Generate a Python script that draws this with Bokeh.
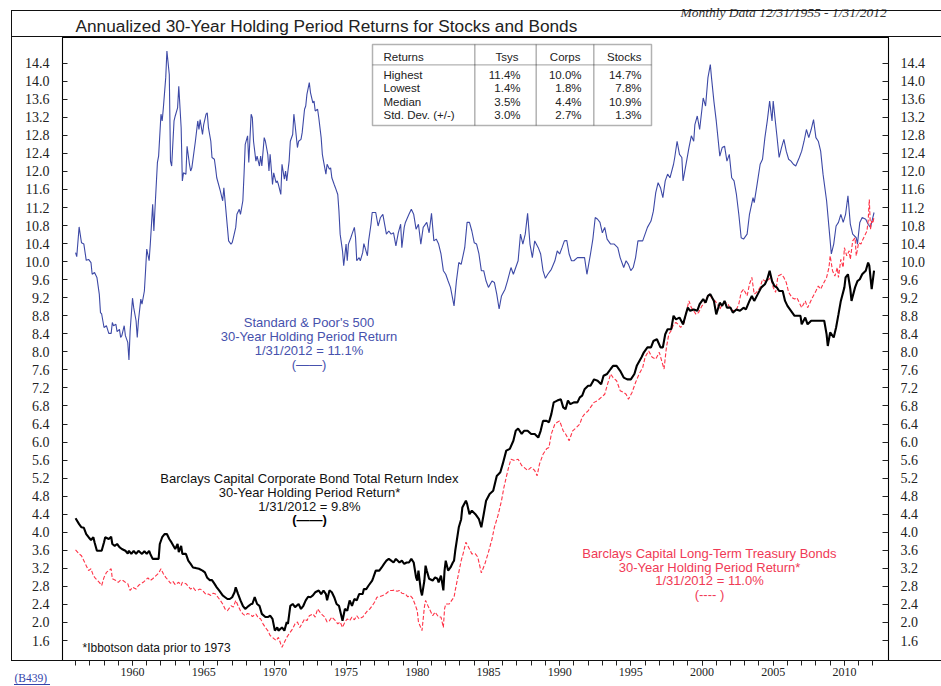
from bokeh.plotting import figure
from bokeh.models import (Range1d, LinearAxis, FixedTicker, Label, BoxAnnotation, Title,
                          PrintfTickFormatter, InlineStyleSheet)
from bokeh.embed import file_html
from bokeh.resources import INLINE

# ---------------- data (month index since 12/1955, annualized 30-yr return %) -------------
stock_m = [0, 1, 3, 5, 7, 9, 11, 13, 14, 16, 18, 20, 21, 22, 24, 26, 28, 30, 31, 32, 34, 35, 37, 38, 39,
           41, 42, 44, 45, 46, 48, 49, 51, 52, 53, 55, 56, 58, 59, 60, 62, 63, 65, 66, 67, 69, 70, 72, 73,
           74, 76, 77, 79, 80, 81, 83, 84, 86, 87, 89, 90, 91, 93, 94, 96, 97, 98, 101, 103, 104, 105, 107,
           108, 110, 111, 112, 114, 115, 117, 118, 119, 122, 124, 125, 126, 128, 129, 131, 132, 133, 135,
           136, 138, 139, 141, 142, 143, 145, 146, 148, 149, 150, 152, 153, 155, 156, 157, 159, 160, 162,
           163, 164, 166, 167, 169, 170, 171, 173, 174, 176, 177, 178, 180, 181, 183, 184, 185, 187, 188,
           190, 191, 193, 194, 195, 197, 198, 200, 201, 202, 204, 205, 207, 208, 209, 211, 212, 214, 215,
           216, 218, 219, 221, 222, 223, 225, 226, 228, 229, 230, 232, 233, 235, 236, 237, 239, 240, 242,
           243, 244, 246, 247, 249, 250, 253, 255, 257, 259, 262, 264, 266, 268, 270, 272, 274, 275, 277,
           278, 281, 283, 285, 287, 289, 291, 293, 296, 298, 300, 302, 304, 306, 308, 310, 312, 314, 316,
           319, 321, 323, 325, 328, 330, 332, 334, 336, 338, 340, 342, 344, 346, 348, 351, 353, 355, 357,
           359, 362, 364, 367, 369, 371, 373, 375, 377, 379, 381, 383, 385, 387, 390, 392, 394, 396, 398,
           401, 404, 406, 408, 410, 412, 414, 416, 418, 420, 423, 426, 429, 431, 434, 436, 438, 440, 442,
           444, 446, 448, 451, 454, 457, 459, 462, 464, 466, 468, 470, 472, 474, 476, 478, 480, 482, 485,
           487, 489, 491, 493, 495, 497, 499, 501, 504, 505, 507, 509, 511, 512, 515, 517, 519, 521, 522,
           524, 526, 529, 531, 533, 535, 536, 538, 540, 543, 545, 547, 549, 551, 553, 555, 557, 559, 561,
           563, 566, 568, 571, 572, 574, 577, 579, 581, 583, 585, 587, 588, 591, 593, 595, 597, 599, 601,
           603, 605, 607, 610, 612, 614, 616, 618, 620, 622, 624, 626, 628, 630, 633, 635, 637, 639, 641,
           643, 645, 647, 649, 651, 653, 655, 658, 659, 661, 663, 666, 668, 670, 672, 673]
stock_v = [10.20, 10.11, 10.77, 10.42, 10.39, 10.03, 10.05, 9.98, 9.72, 9.76, 9.65, 9.28, 8.87, 8.84, 8.54,
           8.58, 8.41, 8.41, 8.65, 8.58, 8.61, 8.45, 8.50, 8.32, 8.36, 8.58, 8.36, 8.21, 7.82, 8.47, 9.19,
           8.98, 8.69, 8.32, 8.69, 9.17, 9.06, 9.35, 9.80, 10.28, 10.02, 10.39, 11.27, 10.68, 11.20, 12.20,
           12.34, 13.27, 13.12, 13.41, 14.08, 14.67, 14.15, 12.23, 12.12, 13.12, 13.23, 13.41, 13.89, 12.97,
           11.79, 11.97, 11.94, 12.56, 12.16, 12.01, 12.08, 12.67, 13.12, 12.93, 13.15, 12.82, 13.04, 13.27,
           13.30, 12.97, 12.67, 12.31, 12.27, 12.08, 11.86, 11.57, 11.35, 11.64, 11.35, 10.76, 10.46, 10.39,
           10.42, 10.53, 10.76, 11.05, 11.16, 11.05, 11.35, 11.94, 12.60, 12.79, 12.20, 13.27, 13.19, 12.67,
           12.23, 12.34, 12.12, 12.34, 12.12, 12.75, 12.67, 12.38, 12.01, 12.38, 11.71, 11.97, 11.75, 11.79,
           11.71, 11.49, 12.16, 11.83, 12.01, 11.79, 12.23, 12.67, 12.82, 13.27, 13.04, 12.53, 12.67, 12.71,
           12.86, 13.38, 13.45, 13.71, 13.97, 13.75, 13.52, 13.56, 13.34, 13.38, 13.19, 12.75, 12.38, 12.23,
           11.94, 12.16, 12.05, 12.08, 11.86, 11.71, 11.64, 11.49, 11.12, 10.61, 10.24, 9.91, 10.39, 10.02,
           10.39, 10.53, 10.61, 10.76, 10.53, 10.02, 10.09, 10.02, 10.20, 10.40, 10.31, 10.13, 10.46, 10.83,
           11.09, 11.09, 10.79, 10.98, 11.05, 10.61, 10.68, 10.61, 10.64, 10.35, 10.64, 10.83, 10.31, 10.76,
           10.87, 11.05, 11.16, 11.05, 10.72, 10.83, 10.39, 10.76, 10.87, 10.64, 11.07, 10.46, 10.50, 10.39,
           10.17, 9.80, 9.72, 9.57, 9.43, 9.02, 9.57, 9.98, 9.94, 10.31, 10.87, 10.87, 10.68, 10.42, 10.39,
           10.17, 9.80, 9.80, 9.57, 9.43, 9.57, 9.54, 9.28, 8.95, 9.24, 9.39, 9.57, 9.87, 9.72, 9.87, 10.02,
           10.61, 10.39, 10.61, 11.07, 10.39, 10.09, 10.46, 10.31, 10.17, 9.80, 9.63, 9.72, 9.83, 10.02,
           10.24, 10.17, 10.31, 10.46, 10.47, 10.17, 10.02, 10.02, 10.09, 10.09, 10.09, 9.72, 10.17, 10.50,
           10.98, 10.94, 10.87, 10.64, 10.76, 10.50, 10.39, 10.39, 10.31, 10.09, 9.87, 10.02, 9.94, 9.80,
           9.87, 10.09, 10.46, 10.46, 10.46, 10.61, 10.76, 10.90, 11.12, 11.53, 11.75, 11.64, 11.42, 11.79,
           11.94, 11.86, 12.16, 12.31, 12.67, 12.38, 12.31, 11.79, 12.23, 12.53, 12.79, 12.67, 13.04, 13.23,
           12.93, 13.63, 13.45, 14.08, 14.37, 14.08, 13.56, 13.12, 12.34, 12.53, 12.56, 12.23, 12.38, 11.86,
           11.79, 11.49, 11.05, 10.53, 10.50, 10.61, 11.05, 11.42, 11.31, 11.64, 12.16, 12.27, 12.75, 13.12,
           13.56, 13.12, 13.56, 12.82, 12.31, 12.53, 12.71, 12.45, 12.27, 12.23, 12.16, 12.12, 12.31, 12.45,
           12.67, 12.93, 12.75, 12.93, 13.15, 12.75, 12.67, 12.45, 11.94, 11.35, 10.76, 10.17, 10.39, 10.79,
           10.87, 11.05, 10.87, 11.05, 11.46, 10.83, 10.61, 10.53, 10.39, 10.87, 10.98, 10.94, 10.83, 10.76,
           10.98, 11.09]

corp_m = [0, 3, 5, 7, 9, 11, 13, 15, 16, 18, 20, 22, 24, 25, 28, 30, 31, 33, 35, 37, 39, 42, 44, 45, 47,
          49, 51, 53, 56, 58, 60, 62, 63, 65, 67, 70, 71, 73, 75, 77, 79, 81, 84, 86, 87, 89, 90, 93, 95,
          97, 99, 101, 104, 107, 109, 111, 113, 115, 117, 119, 121, 124, 126, 128, 130, 132, 134, 135, 137,
          139, 141, 143, 146, 148, 149, 151, 153, 155, 157, 160, 162, 164, 166, 168, 170, 171, 174, 176,
          178, 179, 181, 183, 185, 188, 190, 192, 194, 196, 198, 200, 202, 205, 207, 209, 211, 212, 214,
          216, 218, 220, 222, 224, 225, 227, 229, 231, 233, 235, 237, 239, 242, 243, 245, 247, 250, 251,
          253, 256, 258, 260, 262, 264, 266, 268, 270, 273, 275, 277, 279, 281, 283, 285, 287, 288, 289,
          291, 292, 294, 295, 296, 298, 301, 303, 305, 306, 308, 310, 311, 312, 314, 316, 318, 319, 320,
          323, 325, 326, 329, 330, 332, 334, 337, 340, 342, 344, 346, 349, 352, 355, 358, 360, 363, 366,
          369, 371, 373, 376, 378, 381, 384, 387, 390, 392, 394, 397, 399, 401, 403, 406, 409, 411, 413,
          415, 417, 420, 423, 425, 427, 429, 432, 434, 437, 440, 443, 445, 448, 451, 453, 456, 459, 462,
          465, 468, 471, 473, 477, 479, 482, 485, 487, 490, 493, 495, 497, 499, 502, 504, 506, 509, 512,
          514, 516, 518, 521, 524, 526, 529, 531, 533, 535, 538, 540, 543, 545, 547, 549, 552, 554, 557,
          560, 563, 565, 568, 570, 572, 575, 578, 581, 583, 585, 587, 589, 591, 593, 596, 598, 600, 603,
          606, 609, 611, 612, 615, 617, 620, 623, 625, 628, 631, 633, 634, 636, 639, 641, 643, 645, 648,
          649, 651, 653, 654, 657, 659, 661, 663, 666, 668, 669, 671, 673]
corp_v = [4.31, 4.18, 4.11, 4.10, 3.96, 3.89, 3.83, 3.89, 3.78, 3.59, 3.59, 3.59, 3.78, 3.89, 3.85, 3.90,
          3.74, 3.70, 3.74, 3.67, 3.63, 3.59, 3.53, 3.59, 3.52, 3.59, 3.52, 3.59, 3.52, 3.58, 3.52, 3.59,
          3.52, 3.41, 3.41, 3.41, 3.74, 3.89, 3.96, 3.96, 3.85, 3.77, 3.63, 3.74, 3.56, 3.70, 3.52, 3.52,
          3.37, 3.30, 3.22, 3.21, 3.19, 3.15, 3.11, 2.99, 2.94, 2.94, 2.86, 2.78, 2.71, 2.60, 2.56, 2.52,
          2.52, 2.56, 2.67, 2.78, 2.63, 2.49, 2.37, 2.30, 2.37, 2.41, 2.41, 2.56, 2.41, 2.37, 2.19, 2.12,
          2.12, 2.15, 2.08, 1.82, 1.89, 1.82, 1.89, 1.82, 2.01, 1.97, 2.37, 2.41, 2.34, 2.41, 2.30, 2.37,
          2.49, 2.57, 2.56, 2.60, 2.67, 2.71, 2.63, 2.71, 2.63, 2.49, 2.71, 2.67, 2.56, 2.41, 2.37, 2.15,
          2.04, 2.30, 2.26, 2.49, 2.37, 2.52, 2.49, 2.63, 2.63, 2.74, 2.74, 2.82, 2.93, 3.00, 3.15, 3.15,
          3.22, 3.30, 3.37, 3.41, 3.37, 3.33, 3.41, 3.33, 3.37, 3.30, 3.33, 3.33, 3.41, 3.33, 3.00, 2.93,
          3.15, 2.71, 2.60, 2.93, 3.26, 3.15, 2.97, 2.93, 3.00, 2.97, 2.89, 3.04, 2.71, 3.15, 3.37, 3.15,
          3.22, 3.33, 3.37, 3.59, 4.11, 4.29, 4.55, 4.70, 4.63, 4.40, 4.48, 4.40, 4.29, 4.11, 4.40, 4.70,
          4.85, 4.92, 5.25, 5.33, 5.51, 5.81, 5.85, 6.03, 6.25, 6.30, 6.18, 6.25, 6.25, 6.18, 6.18, 6.10,
          6.25, 6.47, 6.47, 6.44, 6.62, 6.88, 6.92, 6.95, 6.77, 6.73, 6.92, 6.84, 6.88, 6.88, 6.99, 7.03,
          7.17, 7.25, 7.25, 7.39, 7.36, 7.28, 7.47, 7.51, 7.62, 7.69, 7.69, 7.58, 7.43, 7.39, 7.39, 7.51,
          7.69, 7.88, 7.99, 8.10, 8.10, 8.24, 8.28, 8.10, 8.10, 8.39, 8.50, 8.50, 8.80, 8.72, 8.76, 8.61,
          8.80, 8.98, 8.91, 8.94, 8.91, 9.06, 9.17, 9.09, 9.24, 9.28, 9.13, 8.83, 9.09, 9.02, 9.13, 8.98,
          8.98, 8.87, 8.94, 8.91, 8.98, 8.94, 9.13, 9.24, 9.13, 9.28, 9.43, 9.50, 9.61, 9.80, 9.57, 9.46,
          9.43, 9.35, 9.35, 9.13, 9.02, 8.91, 8.80, 8.80, 8.80, 8.61, 8.76, 8.61, 8.69, 8.69, 8.69, 8.69,
          8.69, 8.39, 8.13, 8.43, 8.32, 8.54, 8.83, 9.13, 9.43, 9.65, 9.72, 9.39, 9.13, 9.43, 9.57, 9.61,
          9.72, 9.80, 9.98, 9.91, 9.39, 9.80]

tsy_m = [0, 3, 5, 7, 9, 11, 13, 15, 17, 20, 22, 24, 26, 28, 30, 31, 34, 36, 38, 40, 42, 44, 46, 48, 51,
         53, 55, 57, 59, 61, 63, 65, 67, 70, 72, 74, 76, 78, 80, 82, 84, 87, 89, 90, 93, 95, 97, 99, 101,
         103, 105, 107, 110, 112, 114, 116, 118, 120, 122, 124, 126, 128, 131, 133, 135, 137, 139, 141,
         143, 145, 148, 149, 152, 154, 156, 158, 160, 162, 164, 166, 169, 171, 173, 174, 176, 178, 180,
         183, 185, 187, 189, 191, 193, 195, 197, 200, 202, 204, 206, 208, 210, 212, 214, 216, 219, 221,
         223, 225, 227, 229, 231, 233, 235, 237, 239, 242, 244, 246, 248, 250, 252, 254, 256, 259, 261,
         263, 265, 267, 269, 271, 273, 275, 278, 280, 282, 284, 286, 288, 289, 292, 294, 295, 297, 299,
         301, 303, 306, 308, 310, 311, 312, 315, 317, 319, 320, 323, 325, 327, 329, 332, 334, 337, 339,
         342, 345, 348, 351, 353, 356, 359, 361, 363, 365, 367, 370, 373, 376, 378, 381, 384, 387, 389,
         391, 394, 397, 399, 401, 404, 406, 408, 411, 413, 416, 419, 422, 425, 427, 429, 432, 434, 437,
         440, 443, 446, 448, 451, 453, 456, 459, 462, 464, 466, 469, 472, 475, 478, 480, 483, 486, 489,
         492, 494, 496, 498, 500, 502, 504, 506, 508, 510, 513, 515, 517, 519, 521, 523, 525, 528, 530,
         532, 534, 537, 539, 541, 543, 545, 548, 550, 552, 554, 557, 559, 561, 563, 566, 568, 570, 572,
         574, 577, 579, 581, 583, 586, 588, 590, 592, 595, 597, 599, 601, 604, 606, 608, 610, 612, 615,
         617, 619, 621, 624, 626, 628, 630, 633, 635, 636, 638, 640, 642, 643, 645, 647, 648, 650, 652,
         653, 655, 657, 658, 660, 662, 663, 665, 667, 668, 669, 670, 671, 672, 673]
tsy_v = [3.61, 3.52, 3.48, 3.37, 3.26, 3.15, 3.19, 3.04, 2.97, 2.89, 2.82, 3.00, 3.11, 3.15, 3.19, 2.97,
         2.93, 2.89, 2.94, 2.93, 2.89, 2.86, 2.71, 2.78, 2.74, 2.82, 2.86, 2.89, 2.94, 2.99, 2.93, 2.97,
         3.02, 3.09, 3.19, 3.08, 3.00, 2.94, 2.87, 2.91, 2.84, 2.89, 2.82, 2.89, 2.86, 2.80, 2.74, 2.78,
         2.71, 2.72, 2.74, 2.71, 2.62, 2.63, 2.60, 2.65, 2.63, 2.56, 2.49, 2.41, 2.30, 2.26, 2.37, 2.34,
         2.49, 2.37, 2.26, 2.19, 2.15, 2.20, 2.17, 2.13, 2.19, 2.10, 2.08, 1.97, 1.89, 1.82, 1.71, 1.67,
         1.60, 1.67, 1.52, 1.45, 1.56, 1.67, 1.75, 1.86, 1.97, 2.01, 1.89, 1.98, 2.08, 2.04, 2.15, 2.19,
         2.12, 2.30, 2.23, 2.17, 2.12, 2.01, 2.04, 2.12, 2.04, 1.97, 2.01, 1.89, 2.01, 2.08, 2.04, 2.12,
         2.06, 2.15, 2.08, 2.12, 2.19, 2.26, 2.30, 2.37, 2.45, 2.56, 2.57, 2.60, 2.62, 2.67, 2.71, 2.71,
         2.72, 2.69, 2.71, 2.65, 2.63, 2.57, 2.60, 2.54, 2.41, 2.26, 2.01, 1.82, 2.34, 2.49, 2.37, 2.26,
         2.15, 2.23, 2.12, 2.12, 1.89, 2.30, 2.41, 2.41, 2.49, 2.56, 2.71, 3.11, 3.37, 3.56, 3.78, 3.63,
         3.52, 3.52, 3.45, 3.10, 3.30, 3.56, 3.85, 4.11, 4.37, 4.70, 4.99, 5.22, 5.44, 5.62, 5.59, 5.62,
         5.48, 5.44, 5.37, 5.44, 5.37, 5.25, 5.51, 5.73, 5.85, 5.88, 6.18, 6.40, 6.44, 6.47, 6.25, 6.18,
         6.03, 6.25, 6.32, 6.40, 6.55, 6.62, 6.69, 6.77, 6.88, 6.92, 6.99, 7.06, 7.25, 7.51, 7.43, 7.36,
         7.14, 7.10, 7.06, 6.95, 7.10, 7.32, 7.51, 7.65, 7.88, 8.02, 7.88, 7.84, 7.99, 7.80, 7.62, 8.10,
         8.39, 8.47, 8.61, 8.65, 8.61, 8.54, 8.65, 8.91, 9.13, 8.98, 8.91, 8.83, 8.87, 9.02, 9.09, 9.20,
         9.28, 9.17, 9.13, 9.06, 8.94, 9.06, 9.09, 9.06, 8.94, 8.91, 8.94, 9.06, 9.32, 9.39, 9.24, 9.50,
         9.65, 9.28, 9.32, 9.43, 9.61, 9.57, 9.57, 9.65, 9.43, 9.32, 9.68, 9.72, 9.65, 9.54, 9.32, 9.20,
         9.17, 9.20, 9.09, 8.98, 9.13, 8.98, 9.09, 9.20, 9.35, 9.46, 9.39, 9.50, 9.65, 9.87, 10.13, 9.80,
         9.68, 9.87, 9.65, 10.05, 9.87, 10.31, 10.13, 10.24, 10.05, 10.46, 10.53, 10.13, 10.42, 10.39,
         10.46, 10.57, 10.68, 10.90, 11.38, 10.72, 10.90, 10.85, 11.00]

y_ticks = [1.6, 2.0, 2.4, 2.8, 3.2, 3.6, 4.0, 4.4, 4.8, 5.2, 5.6, 6.0, 6.4, 6.8, 7.2, 7.6, 8.0,
           8.4, 8.8, 9.2, 9.6, 10.0, 10.4, 10.8, 11.2, 11.6, 12.0, 12.4, 12.8, 13.2, 13.6, 14.0, 14.4]
x_major = [1960, 1965, 1970, 1975, 1980, 1985, 1990, 1995, 2000, 2005, 2010]
x_minor = list(range(1956, 2013))

table_cols = ["Returns", "Tsys", "Corps", "Stocks"]
table_rows = ["Highest", "Lowest", "Median", "Std. Dev. (+/-)"]
table_tsys = ["11.4%", "1.4%", "3.5%", "3.0%"]
table_corps = ["10.0%", "1.8%", "4.4%", "2.7%"]
table_stocks = ["14.7%", "7.8%", "10.9%", "1.3%"]

TITLE = "Annualized 30-Year Holding Period Returns for Stocks and Bonds"
SUBTITLE = "Monthly Data 12/31/1955 - 1/31/2012"
FOOTNOTE = "*Ibbotson data prior to 1973"
CODE = "(B439)"

# ---------------- figure ------------------------------------------------------------
W, H = 941, 686
FL, FR, FT, FB = 62, 888, 37, 660          # frame edges in canvas pixels

# thin frame rules of the page layout outside the plotting area (plus the link underline)
frame_css = """
:host { position: relative; }
:host::before {
  content: ""; position: absolute; left: 0; top: 0; width: 941px; height: 686px;
  pointer-events: none; z-index: 5; background-repeat: no-repeat;
  background-image: linear-gradient(#111, #111), linear-gradient(#111, #111),
                    linear-gradient(#111, #111), linear-gradient(#111, #111),
                    linear-gradient(#3344aa, #3344aa);
  background-size: 930px 1px, 930px 1px, 930px 1px, 1px 651px, 36px 1px;
  background-position: 11px 10px, 11px 36px, 11px 660px, 11px 10px, 14px 684px;
}
"""

p = figure(width=W, height=H, output_backend="svg", toolbar_location=None,
           x_range=Range1d(1955.083, 2013.098), y_range=Range1d(1.157, 14.97),
           min_border_left=FL, min_border_right=W - FR, min_border_top=FT, min_border_bottom=H - FB,
           background_fill_color="white", border_fill_color="white", outline_line_color="black",
           outline_line_width=1.1, stylesheets=[InlineStyleSheet(css=frame_css)])
p.xgrid.visible = False
p.ygrid.visible = False

SERIF = "Liberation Serif"
SANS = "Liberation Sans"

xa = p.xaxis[0]
xa.ticker = FixedTicker(ticks=x_major, minor_ticks=x_minor)
xa.formatter = PrintfTickFormatter(format="%d")
xa.major_tick_in = 0
xa.major_tick_out = 5
xa.minor_tick_in = 0
xa.minor_tick_out = 5
xa.major_tick_line_color = "#222222"
xa.minor_tick_line_color = "#222222"
xa.axis_line_color = "black"
xa.major_label_standoff = 2
xa.major_label_text_font = SERIF
xa.major_label_text_font_size = "12px"
xa.major_label_text_color = "#222222"

ya = p.yaxis[0]
ra = LinearAxis()
p.add_layout(ra, "right")
for ax, tin, so in ((ya, 5, 13), (ra, 6, 12)):
    ax.ticker = FixedTicker(ticks=y_ticks)
    ax.formatter = PrintfTickFormatter(format="%.1f")
    ax.major_tick_in = tin
    ax.major_tick_out = 0
    ax.minor_tick_line_color = None
    ax.major_tick_line_color = "#222222"
    ax.axis_line_color = "black"
    ax.major_label_standoff = so
    ax.major_label_text_font = SERIF
    ax.major_label_text_font_size = "14px"
    ax.major_label_text_color = "#222222"

# ---------------- series ------------------------------------------------------------
stock_x = [1956 + m / 12 for m in stock_m]
corp_x = [1956 + m / 12 for m in corp_m]
tsy_x = [1956 + m / 12 for m in tsy_m]

p.line(stock_x, stock_v, line_color="#3d49a6", line_width=1.1)
p.line(tsy_x, tsy_v, line_color="#ff3347", line_width=1.1, line_dash="4 2")
p.line(corp_x, corp_v, line_color="black", line_width=2.1)


# ---------------- titles outside the frame (side-panel titles are not clipped) -------
def make_title(text, offset, standoff, size, font, color, style="normal", valign="bottom"):
    t = Title(text=text, align="left", offset=offset, vertical_align=valign,
              text_font=font, text_font_size=size, text_color=color, text_font_style=style)
    try:
        t.standoff = standoff
    except Exception:
        t.standoff = 0
    return t


p.add_layout(make_title(TITLE, 75 - FL, 4, "17.25px", SANS, "#222222"), "above")
p.add_layout(make_title(SUBTITLE, 680 - FL, -16, "13.5px", SERIF, "#333333", style="italic"), "above")
p.add_layout(make_title(CODE, 14 - FL, -14, "11.5px", SERIF, "#3344aa", valign="top"), "below")


# ---------------- layout helpers (canvas pixels -> frame screen units) ----------------
def sx(px):
    return px - FL


def sy(py):
    return FB - py


def label(text, px, py, size="13px", color="#222222", font=SANS, align="left", style="normal"):
    p.add_layout(Label(x=sx(px), y=sy(py), x_units="screen", y_units="screen", text=text,
                       text_font=font, text_font_size=size, text_color=color, text_align=align,
                       text_baseline="middle", text_font_style=style))


def box(l, t, r, b, lc="black", lw=1.0):
    p.add_layout(BoxAnnotation(left=sx(l), right=sx(r), top=sy(t), bottom=sy(b),
                               left_units="screen", right_units="screen",
                               top_units="screen", bottom_units="screen",
                               fill_alpha=0.0, line_color=lc, line_width=lw, level="overlay"))


# statistics table
box(372, 44, 651, 125, lw=1.5)
box(372, 64.3, 651, 64.3, lw=1.3)
for cx in (474.3, 535.7, 593.3):
    box(cx, 44, cx, 125, lw=1.5)
col_right = [None, 518, 580, 641]
label(table_cols[0], 383, 56, size="11.5px")
for c in range(1, 4):
    label(table_cols[c], col_right[c], 56, size="11.5px", align="right")
row_y = [74.3, 87.6, 101, 114.3]
val_right = [520, 581, 641]
for i, ry in enumerate(row_y):
    label(table_rows[i], 383, ry, size="11.5px")
    for c, col in enumerate((table_tsys, table_corps, table_stocks)):
        label(col[i], val_right[c], ry, size="11.5px", align="right")

# series annotations
BLUE_T = "#4651ad"
RED_T = "#f03a55"
for txt, yy in (("Standard & Poor's 500", 321.5), ("30-Year Holding Period Return", 335.5),
                ("1/31/2012 = 11.1%", 349.5)):
    label(txt, 308.5, yy, color=BLUE_T, align="center")
label("(\u2014\u2014)", 308.5, 363.5, color=BLUE_T, align="center")

for txt, yy in (("Barclays Capital Corporate Bond Total Return Index", 477.5),
                ("30-Year Holding Period Return*", 491.5), ("1/31/2012 = 9.8%", 505.5)):
    label(txt, 309, yy, color="#111111", align="center")
label("(\u2014\u2014)", 309, 519, color="#000000", align="center", style="bold")

for txt, yy in (("Barclays Capital Long-Term Treasury Bonds", 552.5),
                ("30-Year Holding Period Return*", 566.5), ("1/31/2012 = 11.0%", 580)):
    label(txt, 709, yy, color=RED_T, align="center")
label("(---- )", 709, 593.5, color=RED_T, align="center")

label(FOOTNOTE, 82, 647, size="12px", color="#111111")

open("out.html", "w").write(file_html(p, INLINE))
